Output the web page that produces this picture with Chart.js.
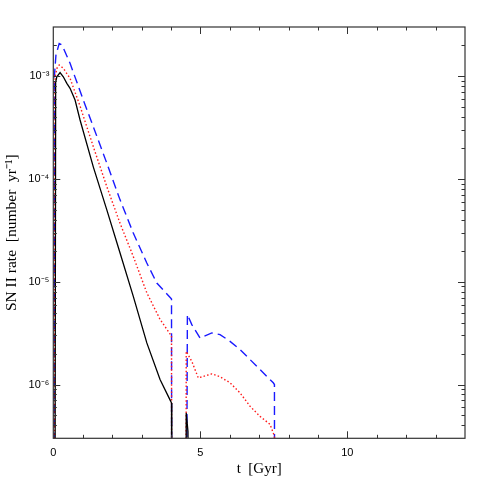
<!DOCTYPE html>
<html>
<head>
<meta charset="utf-8">
<script src="https://cdn.jsdelivr.net/npm/chart.js@4/dist/chart.umd.min.js"></script>
<style>
  html, body { margin: 0; padding: 0; background: #ffffff; }
  #wrap { width: 491px; height: 491px; }
</style>
</head>
<body>
<div id="wrap"><canvas id="c" width="491" height="491"></canvas></div>
<script>
// ---- data (t in Gyr, rate in number / yr) ----
const ZERO = 1e-9; // stands in for a zero rate on the log axis (below the plotted range)

const tBlack = [0.00, 0.05, 0.08, 0.12, 0.23, 0.34, 0.46, 0.57, 0.74, 0.91, 1.36, 1.82, 2.27, 2.72, 3.18, 3.63, 3.99, 4.02, 4.03,
                4.50, 4.52, 4.58, 4.62, 14.0];
const rateBlack = [ZERO, ZERO, 8.75e-4, 9.85e-4, 1.08e-3, 9.85e-4, 8.5e-4, 7.6e-4, 5.85e-4, 3.74e-4, 1.31e-4, 5.0e-5, 1.9e-5, 7.2e-6, 2.54e-6, 1.12e-6, 6.9e-7, 6.6e-7, ZERO,
                   ZERO, 5.3e-7, 3.5e-7, ZERO, ZERO];

const tRed = [0.00, 0.03, 0.06, 0.13, 0.20, 0.34, 0.57, 0.91, 1.36, 1.82, 2.27, 2.72, 3.18, 3.63, 3.99, 4.02, 4.03,
              4.51, 4.52, 4.71, 4.93, 5.39, 5.67, 6.01, 6.35, 6.69, 7.03, 7.37, 7.52, 7.53, 14.0];
const rateRed = [ZERO, ZERO, 9.85e-4, 1.2e-3, 1.28e-3, 1.19e-3, 9.5e-4, 5.1e-4, 2.06e-4, 8.4e-5, 3.7e-5, 1.76e-5, 7.8e-6, 4.3e-6, 3.05e-6, 3.0e-6, ZERO,
                 ZERO, 2.1e-6, 1.68e-6, 1.16e-6, 1.27e-6, 1.19e-6, 1.04e-6, 8.3e-7, 6.15e-7, 4.9e-7, 4.1e-7, 3.15e-7, ZERO, ZERO];

const tBlue = [0.00, 0.02, 0.04, 0.09, 0.20, 0.30, 0.57, 1.02, 1.36, 1.82, 2.27, 2.72, 3.18, 3.52, 3.99, 4.02, 4.03,
               4.51, 4.56, 4.71, 4.99, 5.39, 5.67, 6.01, 6.35, 6.69, 7.03, 7.48, 7.52, 7.53, 14.0];
const rateBlue = [ZERO, ZERO, 1.02e-3, 1.6e-3, 2.07e-3, 2.0e-3, 1.33e-3, 5.85e-4, 3.22e-4, 1.42e-4, 6.25e-5, 2.97e-5, 1.52e-5, 9.7e-6, 6.95e-6, 6.8e-6, ZERO,
                  ZERO, 4.8e-6, 3.83e-6, 2.84e-6, 3.18e-6, 3.06e-6, 2.63e-6, 2.19e-6, 1.75e-6, 1.4e-6, 1.04e-6, 1.0e-6, ZERO, ZERO];

const xMin = 0, xMax = 14;
const yMin = 3e-7, yMax = 3e-3;
const yMajorTicks = [1e-6, 1e-5, 1e-4, 1e-3];
const yTickLabels = ['10\u207B\u2076', '10\u207B\u2075', '10\u207B\u2074', '10\u207B\u00B3'];
const xMajorTicks = [0, 5, 10];
const xTitle = 't  [Gyr]';
const yTitle = 'SN II rate  [number  yr\u207B\u00B9]';

function pts(ts, vs) { return ts.map((t, i) => ({ x: t, y: vs[i] })); }

// frame + inward ticks on all four sides, placed through the chart's own scales
const framePlugin = {
  id: 'frame',
  afterDatasetsDraw(chart) {
    const { ctx, chartArea: a, scales: { x, y } } = chart;
    ctx.save();
    ctx.strokeStyle = '#333333';
    ctx.lineWidth = 1.2;
    ctx.strokeRect(a.left, a.top, a.right - a.left, a.bottom - a.top);
    ctx.lineWidth = 1;
    ctx.beginPath();
    for (let t = Math.ceil(x.min); t <= x.max; t++) {
      if (t === x.min || t === x.max) continue;
      const px = Math.round(x.getPixelForValue(t)) + 0.5;
      const len = (t % 5 === 0) ? 7 : 3.5;
      ctx.moveTo(px, a.bottom); ctx.lineTo(px, a.bottom - len);
      ctx.moveTo(px, a.top); ctx.lineTo(px, a.top + len);
    }
    const e0 = Math.floor(Math.log10(y.min)), e1 = Math.ceil(Math.log10(y.max));
    for (let e = e0; e <= e1; e++) {
      for (let k = 1; k <= 9; k++) {
        const v = k * Math.pow(10, e);
        if (v <= y.min || v >= y.max) continue;
        const py = Math.round(y.getPixelForValue(v)) + 0.5;
        const len = (k === 1) ? 7 : 3.5;
        ctx.moveTo(a.left, py); ctx.lineTo(a.left + len, py);
        ctx.moveTo(a.right, py); ctx.lineTo(a.right - len, py);
      }
    }
    ctx.stroke();
    ctx.restore();
  }
};

new Chart(document.getElementById('c'), {
  type: 'line',
  data: {
    datasets: [
      { label: 'black', data: pts(tBlack, rateBlack), borderColor: '#000000', borderWidth: 1.3, pointRadius: 0, tension: 0, fill: false },
      { label: 'red', data: pts(tRed, rateRed), borderColor: '#ff1a1a', borderWidth: 1.4, borderDash: [1.5, 2.2], pointRadius: 0, tension: 0, fill: false },
      { label: 'blue', data: pts(tBlue, rateBlue), borderColor: '#1a1aff', borderWidth: 1.4, borderDash: [9, 5], pointRadius: 0, tension: 0, fill: false }
    ]
  },
  options: {
    responsive: false,
    animation: false,
    devicePixelRatio: 1,
    layout: { padding: { top: 27, right: 26, left: 0, bottom: 0 } },
    plugins: { legend: { display: false }, tooltip: { enabled: false } },
    scales: {
      x: {
        type: 'linear', min: xMin, max: xMax,
        grid: { display: false, drawTicks: false },
        border: { display: false },
        afterBuildTicks(s) { s.ticks = xMajorTicks.map(v => ({ value: v })); },
        afterFit(s) { s.height = 52.7; },
        ticks: { color: '#000', font: { family: 'Liberation Sans', size: 11 }, padding: 8, maxRotation: 0, autoSkip: false,
                 callback: v => String(v) },
        title: { display: true, text: xTitle, color: '#000', font: { family: 'Liberation Serif', size: 15 }, padding: { top: 0, bottom: 13 } }
      },
      y: {
        type: 'logarithmic', min: yMin, max: yMax,
        grid: { display: false, drawTicks: false },
        border: { display: false },
        afterBuildTicks(s) { s.ticks = yMajorTicks.map(v => ({ value: v })); },
        afterFit(s) { s.width = 53.3; },
        ticks: { color: '#000', font: { family: 'Liberation Sans', size: 11 }, padding: 4, autoSkip: false,
                 callback: (v) => { const i = yMajorTicks.findIndex(m => Math.abs(m - v) / m < 1e-6); return i >= 0 ? yTickLabels[i] : ''; } },
        title: { display: true, text: yTitle, color: '#000', font: { family: 'Liberation Serif', size: 15.5 }, padding: { top: 3, bottom: 0 } }
      }
    }
  },
  plugins: [framePlugin]
});
</script>
</body>
</html>
